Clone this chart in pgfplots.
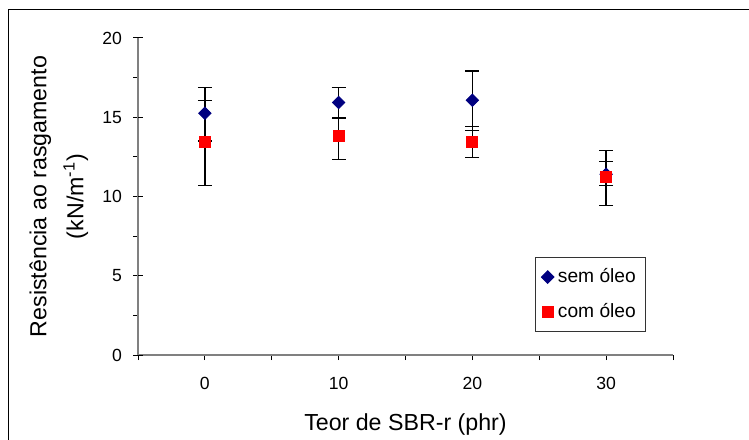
\documentclass[border=0pt]{standalone}
\usepackage{fontspec}
\setmainfont{Liberation Sans}
\usepackage{pgfplots}
\pgfplotsset{compat=1.18}
\usepackage{pgfplotstable}

% x = category index (0,10,20,30 phr), y, error plus, error minus
\pgfplotstableread{
x y ep em
0 15.25 1.63 1.75
1 15.93 0.95 0.98
2 16.07 1.85 1.90
3 11.40 1.50 0.70
}\semoleo
\pgfplotstableread{
x y ep em
0 13.44 2.63 2.74
1 13.80 1.10 1.47
2 13.44 0.96 1.00
3 11.23 0.97 1.80
}\comoleo

\definecolor{navyblue}{RGB}{0,0,128}
\definecolor{axisgray}{RGB}{128,128,128}

\begin{document}
\begin{tikzpicture}
\useasboundingbox (0,0) rectangle (374.5pt,219.5pt);
\draw[line width=0.5pt] (4pt,-1pt) -- (4pt,214.5pt) -- (376pt,214.5pt);
\begin{axis}[
  at={(69pt,42pt)}, anchor=south west,
  scale only axis, width=267.5pt, height=158.5pt,
  xmin=-0.5, xmax=3.5, ymin=0, ymax=20,
  axis x line*=bottom, axis y line*=left,
  axis line style={draw=axisgray, line width=0.7pt},
  tick style={black, line width=0.5pt},
  tick align=outside,
  major tick length=2.5pt, minor tick length=2.5pt,
  xtick={0,1,2,3}, xticklabels={0,10,20,30},
  minor xtick={-0.5,0.5,1.5,2.5,3.5},
  ytick={0,5,10,15,20}, minor ytick={2.5,7.5,12.5,17.5},
  extra y ticks={0,5,10,15,20}, extra y tick labels={},
  extra y tick style={tick align=inside},
  /pgf/number format/assume math mode=true,
  tick label style={font=\fontsize{8.8}{10}\selectfont},
  xticklabel style={yshift=-5pt},
  yticklabel style={xshift=-2pt},
  label style={font=\fontsize{11.6}{14}\selectfont},
  xlabel={Teor de SBR-r (phr)},
  xlabel style={yshift=-5pt},
  ylabel={Resistência ao rasgamento\\[4.5pt](kN/m\textsuperscript{-1})},
  ylabel style={align=center},
  ylabel shift=-2.3pt,
  legend style={at={(0.742,0.309)}, anchor=north west,
    draw=black!80, line width=0.5pt,
    font=\fontsize{9.6}{11}\selectfont, row sep=5pt,
    inner xsep=3pt, inner ysep=3.5pt},
  legend cell align=left,
]
\addplot[only marks, mark=square*, mark size=2.2pt,
  mark options={rotate=45, fill=navyblue, draw=navyblue},
  error bars/.cd, y dir=both, y explicit,
  error bar style={black, line width=0.65pt},
  error mark options={rotate=90, mark size=3.5pt, black, line width=0.65pt}]
  table[x=x, y=y, y error plus=ep, y error minus=em]{\semoleo};
\addlegendentry{sem óleo}
\addplot[only marks, mark=square*, mark size=2.75pt,
  mark options={fill=red, draw=red},
  error bars/.cd, y dir=both, y explicit,
  error bar style={black, line width=0.65pt},
  error mark options={rotate=90, mark size=3.5pt, black, line width=0.65pt}]
  table[x=x, y=y, y error plus=ep, y error minus=em]{\comoleo};
\addlegendentry{com óleo}
\end{axis}
\end{tikzpicture}
\end{document}
